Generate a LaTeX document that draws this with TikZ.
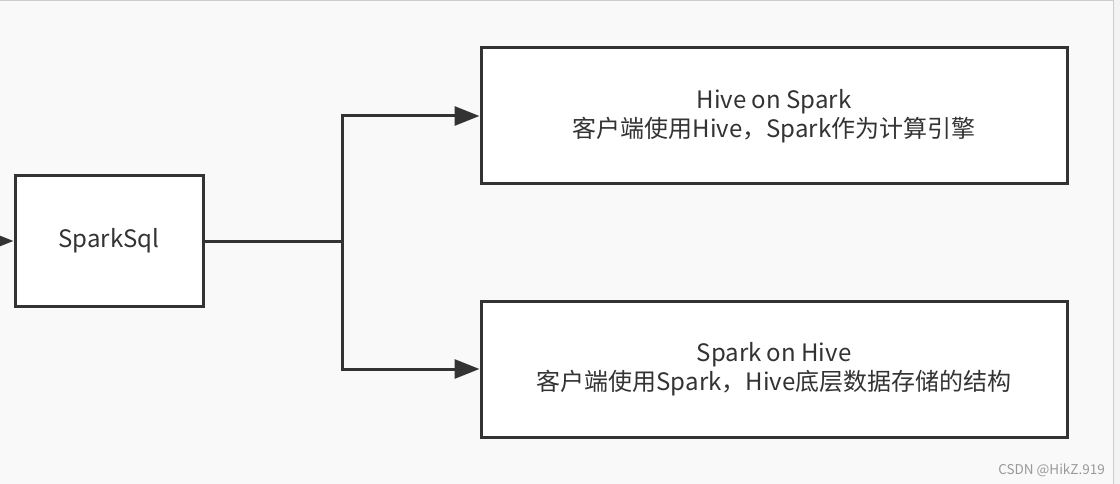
\documentclass[tikz,border=0pt]{standalone}
\usepackage{fontspec}
\setmainfont{Noto Sans CJK SC}
\usetikzlibrary{arrows.meta}
\definecolor{bg}{HTML}{F9F9F9}
\definecolor{edge}{HTML}{333333}
\definecolor{txt}{HTML}{333333}
\definecolor{side}{HTML}{F2F3F5}
\definecolor{wm}{HTML}{999999}
\tikzset{
  box/.style={draw=edge, line width=3pt, fill=white, text=txt, align=center,
    inner sep=0pt, font=\fontsize{24}{29}\selectfont},
  conn/.style={draw=edge, line width=3pt, -{Triangle[length=25pt,width=19pt]}},
  plain/.style={draw=edge, line width=3pt}
}
\begin{document}
\begin{tikzpicture}[x=1pt,y=-1pt]
\useasboundingbox (0,0) rectangle (1120,484);
\fill[side] (0,0) rectangle (1120,484);
\fill[bg] (0,1) rectangle (1113,484);
\draw[gray!40, line width=1pt] (0,1) -- (1113,1) -- (1113,484);
\begin{scope}
\clip (0,0) rectangle (1120,484);
\node[box, minimum width=188pt, minimum height=130pt] (s) at (109,241) {SparkSql};
\node[box, minimum width=586pt, minimum height=136pt] (h) at (774,116) {\raisebox{-2pt}{Hive on Spark}\\\raisebox{-2pt}{客户端使用Hive，Spark作为计算引擎}};
\node[box, minimum width=586pt, minimum height=136pt] (p) at (774,369) {\raisebox{-2pt}{Spark on Hive}\\\raisebox{-2pt}{客户端使用Spark，Hive底层数据存储的结构}};
\coordinate (in) at (-20,241);
\coordinate (j) at (342,241);
\draw[conn] (in) -- (s.west);
\draw[plain] (s.east) -- (j);
\draw[conn] (j) |- (h.west);
\draw[conn] (j) |- (p.west);
\node[anchor=east, text=wm, font=\fontsize{13.5}{15}\selectfont, inner sep=0pt] (w) at (1105,470) {CSDN @HikZ.919};
\end{scope}
\end{tikzpicture}
\end{document}
